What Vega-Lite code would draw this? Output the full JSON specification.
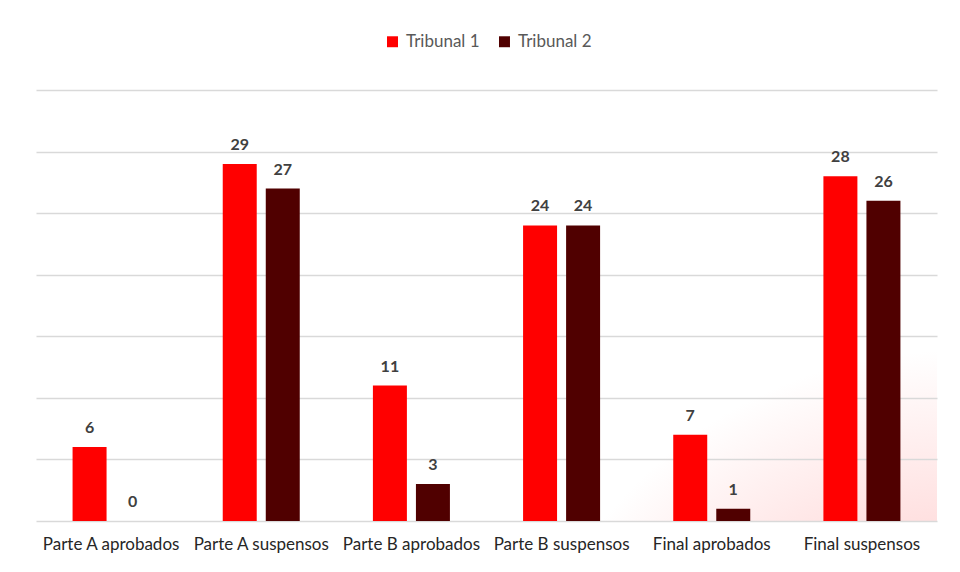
{
  "$schema": "https://vega.github.io/schema/vega-lite/v6.json",
  "width": 901,
  "height": 431,
  "autosize": {"type": "none"},
  "padding": {"left": 36, "top": 90, "right": 23, "bottom": 51},
  "background": "white",
  "config": {
    "view": {
      "stroke": null,
      "fill": {
        "gradient": "radial",
        "x1": 1.02, "y1": 1.05, "x2": 1.02, "y2": 1.05,
        "r1": 0, "r2": 0.5,
        "stops": [
          {"offset": 0, "color": "#ffa0a0"},
          {"offset": 0.5, "color": "#ffd6d6"},
          {"offset": 1, "color": "#ffffff"}
        ]
      }
    }
  },
  "data": {
    "values": [
      {"categoria": "Parte A aprobados", "tribunal": "Tribunal 1", "valor": 6},
      {"categoria": "Parte A aprobados", "tribunal": "Tribunal 2", "valor": 0},
      {"categoria": "Parte A suspensos", "tribunal": "Tribunal 1", "valor": 29},
      {"categoria": "Parte A suspensos", "tribunal": "Tribunal 2", "valor": 27},
      {"categoria": "Parte B aprobados", "tribunal": "Tribunal 1", "valor": 11},
      {"categoria": "Parte B aprobados", "tribunal": "Tribunal 2", "valor": 3},
      {"categoria": "Parte B suspensos", "tribunal": "Tribunal 1", "valor": 24},
      {"categoria": "Parte B suspensos", "tribunal": "Tribunal 2", "valor": 24},
      {"categoria": "Final aprobados", "tribunal": "Tribunal 1", "valor": 7},
      {"categoria": "Final aprobados", "tribunal": "Tribunal 2", "valor": 1},
      {"categoria": "Final suspensos", "tribunal": "Tribunal 1", "valor": 28},
      {"categoria": "Final suspensos", "tribunal": "Tribunal 2", "valor": 26}
    ]
  },
  "encoding": {
    "x": {
      "field": "categoria",
      "type": "nominal",
      "sort": null,
      "scale": {"paddingInner": 0, "paddingOuter": 0},
      "axis": {
        "title": null,
        "labelAngle": 0,
        "domain": false,
        "ticks": false,
        "labelPadding": 15,
        "labelFontSize": 17,
        "labelColor": "#262626",
        "labelFont": "Lato"
      }
    },
    "xOffset": {
      "field": "tribunal",
      "type": "nominal",
      "scale": {"paddingInner": 0.21, "paddingOuter": 0.85}
    },
    "y": {
      "field": "valor",
      "type": "quantitative",
      "scale": {"domain": [0, 35], "nice": false},
      "axis": {
        "title": null,
        "values": [0, 5, 10, 15, 20, 25, 30, 35],
        "labels": false,
        "ticks": false,
        "domain": false,
        "gridColor": "#d9d9d9",
        "gridWidth": 1.5
      }
    }
  },
  "layer": [
    {
      "mark": {"type": "bar"},
      "encoding": {
        "color": {
          "field": "tribunal",
          "type": "nominal",
          "scale": {"domain": ["Tribunal 1", "Tribunal 2"], "range": ["#ff0000", "#500000"]},
          "legend": {
            "title": null,
            "orient": "none",
            "legendX": 348,
            "legendY": -57,
            "direction": "horizontal",
            "symbolType": "square",
            "symbolSize": 120,
            "symbolStrokeWidth": 0,
            "labelFontSize": 17,
            "labelColor": "#595959",
            "labelFont": "Lato",
            "columnPadding": 16,
            "labelOffset": 5
          }
        }
      }
    },
    {
      "mark": {"type": "text", "dy": -19, "baseline": "middle", "fontWeight": "bold", "fontSize": 16, "color": "#404040", "font": "Lato"},
      "encoding": {
        "text": {"field": "valor", "type": "quantitative"}
      }
    }
  ]
}
